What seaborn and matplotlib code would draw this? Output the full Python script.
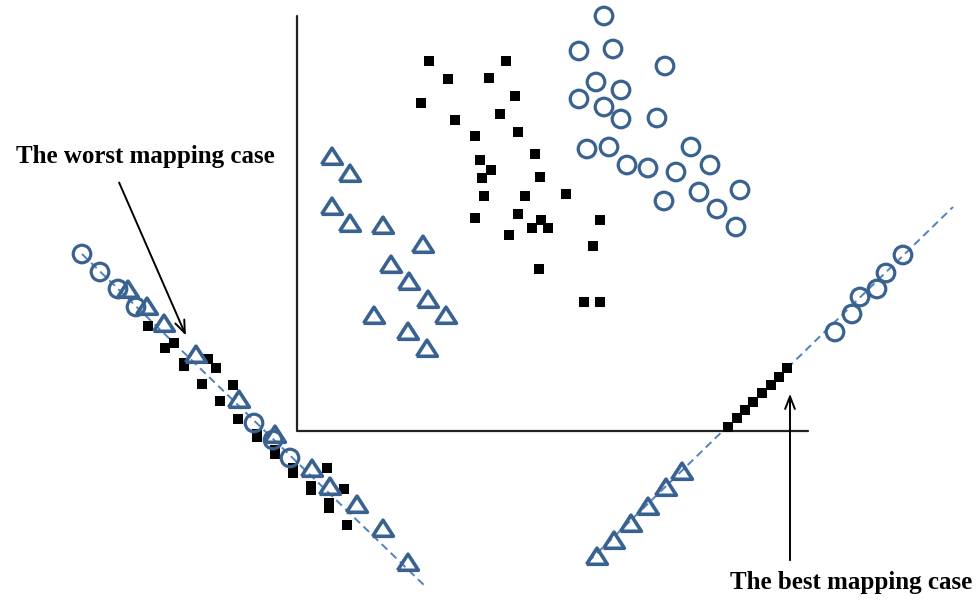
import pandas as pd
import matplotlib.pyplot as plt
import seaborn as sns

#1 данные: координаты точек в пикселях картинки (ось y вниз)

circle_x = [604, 579, 613, 665, 596, 621, 579, 604, 621, 657, 587, 609, 691, 627, 648, 676, 710, 699, 740, 664, 717, 736]
circle_y = [16, 51, 49, 66, 82, 90, 99, 107, 119, 118, 149, 147, 147, 165, 168, 172, 165, 192, 190, 201, 209, 227]

square_x = [429, 506, 448, 489, 515, 421, 500, 455, 518, 475, 535, 480, 491, 540, 482,
            484, 525, 566, 475, 518, 541, 532, 548, 600, 509, 593, 539, 584, 600]
square_y = [61, 61, 79, 78, 96, 103, 114, 120, 132, 136, 154, 160, 170, 177, 178,
            196, 196, 194, 218, 214, 220, 228, 228, 220, 235, 246, 269, 302, 302]

tri_x = [332, 350, 332, 350, 383, 423, 391, 409, 428, 374, 446, 408, 427]
tri_y = [157, 174, 207, 224, 226, 245, 265, 282, 300, 316, 316, 332, 349]

# худшая проекция
worst_circle_x = [82, 100, 118, 136, 254, 273, 290]
worst_circle_y = [254, 272, 289, 307, 423, 440, 458]
worst_tri_x = [128, 147, 164, 196, 239, 275, 312, 330, 357, 383, 408]
worst_tri_y = [290, 307, 324, 355, 400, 435, 469, 487, 505, 529, 563]
worst_square_x = [148, 174, 165, 208, 184, 184, 216, 202, 233, 220, 238, 257, 257, 275, 275,
                  293, 293, 327, 311, 311, 344, 329, 329, 347]
worst_square_y = [326, 343, 348, 359, 363, 366, 368, 384, 385, 401, 419, 434, 437, 450, 454,
                  468, 473, 468, 486, 490, 489, 503, 508, 525]
worst_line_x = [82, 427]
worst_line_y = [254, 588]

# лучшая проекция
best_tri_x = [597, 614, 631, 648, 666, 682]
best_tri_y = [557, 541, 524, 507, 488, 472]
best_square_x = [728, 737, 745, 753, 762, 771, 779, 787]
best_square_y = [427, 418, 410, 402, 393, 385, 377, 368]
best_circle_x = [835, 852, 860, 877, 886, 903]
best_circle_y = [332, 314, 297, 289, 273, 255]
best_line_x = [588, 953]
best_line_y = [562, 207]

labels = ['The worst mapping case', 'The best mapping case']

#2 стиль

edge = '#3A6290'
dash = '#4F81BD'
tri = [(-1, -0.7), (1, -0.7), (0, 0.85), (-1, -0.7)]

sns.set_style('white')

fig = plt.figure(figsize=(9.79, 6.01), dpi=100)
ax = fig.add_axes([0, 0, 1, 1])

#3 пунктирные линии и оси

ax.plot(worst_line_x, worst_line_y, ls=(0, (4, 2.5)), color=dash, lw=1.4, zorder=1)
ax.plot(best_line_x, best_line_y, ls=(0, (4, 2.5)), color=dash, lw=1.4, zorder=1)
ax.plot([297, 297, 808], [16, 431, 431], color='#222222', lw=1.6, zorder=1)

#4 точки

circles = pd.DataFrame({'x': circle_x + worst_circle_x + best_circle_x,
                        'y': circle_y + worst_circle_y + best_circle_y})
squares = pd.DataFrame({'x': square_x + worst_square_x + best_square_x,
                        'y': square_y + worst_square_y + best_square_y})
triangles = pd.DataFrame({'x': tri_x + worst_tri_x + best_tri_x,
                          'y': tri_y + worst_tri_y + best_tri_y})

sns.scatterplot(data=squares, x='x', y='y', marker='s', s=46, color='black',
                edgecolor='none', ax=ax, zorder=2)
sns.scatterplot(data=circles, x='x', y='y', marker='o', s=160, facecolor='none',
                edgecolor=edge, linewidth=2.3, ax=ax, zorder=3)
sns.scatterplot(data=triangles, x='x', y='y', marker=tri, s=225, facecolor='none',
                edgecolor=edge, linewidth=2.6, ax=ax, zorder=3)

#5 подписи и стрелки

font = dict(family=['Liberation Serif', 'DejaVu Serif'], fontweight='bold',
            fontsize=18, color='black')
ax.text(145, 157, labels[0], ha='center', va='center', **font)
ax.text(851, 583, labels[1], ha='center', va='center', **font)

arrow = dict(arrowstyle='->,head_length=0.9,head_width=0.35', color='black', lw=1.4)
ax.annotate('', xy=(187, 338), xytext=(118, 180), arrowprops=arrow)
ax.annotate('', xy=(790, 391), xytext=(790, 563), arrowprops=arrow)

ax.set_xlim(0, 979)
ax.set_ylim(601, 0)
ax.axis('off')

plt.savefig('out.png', dpi=100)
